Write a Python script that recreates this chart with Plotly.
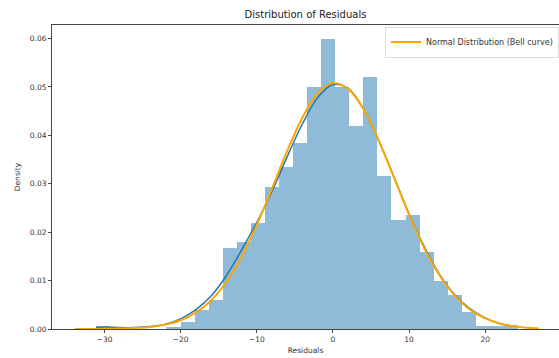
import plotly.graph_objects as go

# Histogram (density)
bin_centers = [-30.18, -28.33, -26.48, -24.63, -22.79, -20.94, -19.09, -17.24, -15.40, -13.55,
               -11.70, -9.85, -8.01, -6.16, -4.31, -2.46, -0.62, 1.23, 3.08, 4.93,
               6.77, 8.62, 10.47, 12.32, 14.16, 16.01, 17.86, 19.71, 21.55, 23.40]
bin_width = 1.848
bin_density = [0.0006, 0.0, 0.0, 0.0, 0.0, 0.0005, 0.0015, 0.004, 0.006, 0.0167,
               0.018, 0.0218, 0.0294, 0.0335, 0.0384, 0.050, 0.060, 0.050, 0.042, 0.052,
               0.0316, 0.0225, 0.0236, 0.016, 0.010, 0.007, 0.0035, 0.0006, 0.0006, 0.0006]

# Normal distribution (orange)
normal_x = [-33.9, -32, -30, -28, -26, -24, -22, -20, -18, -16, -14, -12, -10, -8, -6, -4, -2,
            0, 2, 4, 6, 8, 10, 12, 14, 16, 18, 20, 22, 24, 26, 27.1]
normal_y = [0.0, 0.0, 0.00003, 0.00008, 0.0002, 0.0004, 0.0009, 0.0018, 0.0034, 0.0059, 0.0097,
            0.0149, 0.0215, 0.0290, 0.0368, 0.0437, 0.0487, 0.0508, 0.0496, 0.0455, 0.0390,
            0.0314, 0.0237, 0.0167, 0.0111, 0.0069, 0.0040, 0.0022, 0.0011, 0.0005, 0.0002, 0.0001]

# KDE (blue)
kde_x = [-31.1, -30, -28, -26, -24, -22, -20, -18, -16, -14, -12, -10, -8, -6, -4, -2,
         0, 2, 4, 6, 8, 10, 12, 14, 16, 18, 20, 22, 24.3]
kde_y = [0.0003, 0.0004, 0.0003, 0.0003, 0.0005, 0.0010, 0.0021, 0.0040, 0.0068, 0.0110,
         0.0163, 0.0220, 0.0284, 0.0356, 0.0424, 0.0478, 0.0505, 0.0497, 0.0455, 0.0390,
         0.0315, 0.0238, 0.0170, 0.0113, 0.0071, 0.0042, 0.0023, 0.0011, 0.0005]

y_ticks = [0.00, 0.01, 0.02, 0.03, 0.04, 0.05, 0.06]
x_ticks = [-30, -20, -10, 0, 10, 20, 30]

FONT = "DejaVu Sans"
TXT = "#333333"
SPINE = "#444444"

fig = go.Figure()
fig.add_trace(go.Bar(
    x=bin_centers, y=bin_density, width=[bin_width] * len(bin_centers),
    marker=dict(color="rgba(31,119,180,0.5)", line=dict(width=0)),
    showlegend=False, hoverinfo="skip"))
fig.add_trace(go.Scatter(
    x=kde_x, y=kde_y, mode="lines", line=dict(color="#1f77b4", width=1.5, shape="spline"),
    showlegend=False))
fig.add_trace(go.Scatter(
    x=normal_x, y=normal_y, mode="lines", line=dict(color="#FFA500", width=2, shape="spline"),
    name="Normal Distribution (Bell curve)"))

fig.update_layout(
    width=559, height=358,
    margin=dict(l=52, r=0, t=25, b=29),
    paper_bgcolor="white", plot_bgcolor="white",
    bargap=0,
    font=dict(family=FONT, color=TXT, size=8),
    title=dict(text="Distribution of Residuals", x=0.5, xref="paper", xanchor="center",
               y=1 - 14 / 358, yref="container", yanchor="middle",
               font=dict(family=FONT, size=10, color="#222222")),
    legend=dict(x=1, y=0.995, xanchor="right", yanchor="top",
                bgcolor="rgba(255,255,255,0.8)", bordercolor="#dddddd", borderwidth=1,
                font=dict(family=FONT, size=8, color=TXT), itemwidth=30,
                tracegroupgap=0),
    xaxis=dict(range=[-36.9, 29.7], tickvals=x_ticks, ticktext=[str(v).replace("-", "\u2212") for v in x_ticks],
               showgrid=False, zeroline=False, showline=True, linecolor=SPINE, linewidth=1,
               mirror=True, ticks="outside", ticklen=3, tickcolor=SPINE,
               tickfont=dict(family=FONT, size=7.5, color=TXT),
               title=dict(text="Residuals", font=dict(family=FONT, size=7.5, color=TXT), standoff=4)),
    yaxis=dict(range=[0, 0.0628], tickvals=y_ticks, ticktext=[f"{v:.2f}" for v in y_ticks],
               showgrid=False, zeroline=False, showline=True, linecolor=SPINE, linewidth=1,
               mirror=False, ticks="outside", ticklen=3, tickcolor=SPINE,
               tickfont=dict(family=FONT, size=7.5, color=TXT),
               title=dict(text="Density", font=dict(family=FONT, size=7.5, color=TXT), standoff=8)),
)

fig.write_html(
    "out.html",
    config={"displayModeBar": False},
    post_script="document.body.style.margin='0';document.body.style.overflow='hidden';"
                "document.documentElement.style.overflow='hidden';",
)
